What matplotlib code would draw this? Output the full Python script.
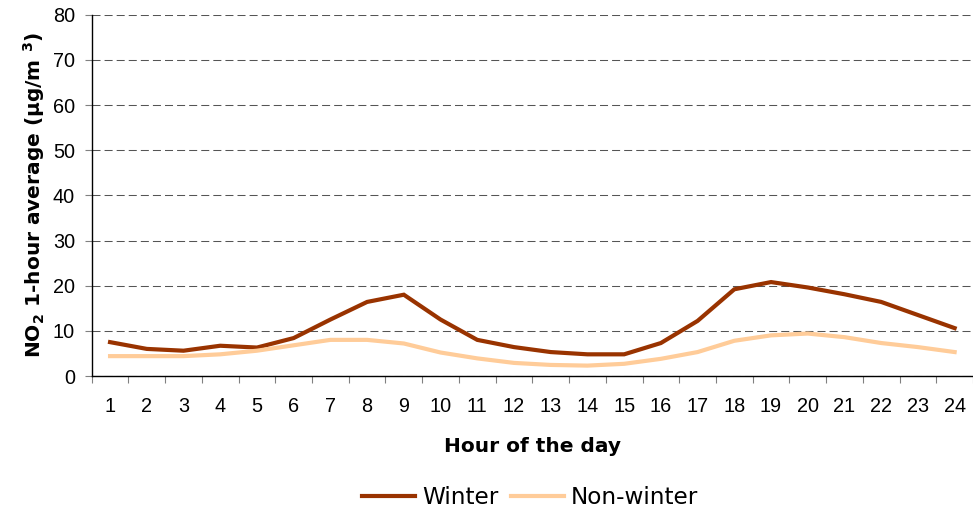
import matplotlib
matplotlib.use("Agg")
import matplotlib.pyplot as plt

plt.rcParams['font.family'] = ['Liberation Sans', 'DejaVu Sans']
plt.rcParams['mathtext.fontset'] = 'custom'
plt.rcParams['mathtext.rm'] = 'DejaVu Sans:bold'
plt.rcParams['mathtext.bf'] = 'DejaVu Sans:bold'
plt.rcParams['mathtext.it'] = 'DejaVu Sans:bold'

hours = list(range(1, 25))
hour_labels = [str(h) for h in hours]
winter = [7.5, 6.0, 5.6, 6.7, 6.3, 8.4, 12.5, 16.4, 18.0, 12.5, 8.0, 6.4,
          5.3, 4.8, 4.8, 7.3, 12.2, 19.2, 20.8, 19.6, 18.1, 16.4, 13.5, 10.6]
non_winter = [4.4, 4.4, 4.4, 4.8, 5.6, 6.8, 8.0, 8.0, 7.2, 5.2, 3.9, 2.9,
              2.45, 2.3, 2.7, 3.8, 5.3, 7.8, 9.0, 9.4, 8.6, 7.3, 6.4, 5.3]
yticks = [0, 10, 20, 30, 40, 50, 60, 70, 80]

fig = plt.figure(figsize=(9.73, 5.20), dpi=100)
ax = fig.add_axes([91.7 / 973, 1 - 376 / 520, 1 - 91.7 / 973, (376 - 14.7) / 520])

ax.plot(hours, winter, color='#993300', lw=3, label='Winter', solid_joinstyle='miter')
ax.plot(hours, non_winter, color='#FFCC99', lw=3, label='Non-winter', solid_joinstyle='miter')

ax.set_xlim(0.5, 24.5)
ax.set_ylim(0, 80)
ax.set_yticks(yticks)
ax.set_yticklabels([str(v) for v in yticks], fontsize=14.3)
ax.tick_params(axis='y', length=5, width=0.8, color='#808080', pad=7)

ax.set_xticks([h - 0.5 for h in hours] + [24.5])
ax.set_xticklabels([])
ax.tick_params(axis='x', which='major', length=5, width=0.8, color='#808080')
ax.set_xticks(hours, minor=True)
ax.set_xticklabels(hour_labels, minor=True, fontsize=14.3)
ax.tick_params(axis='x', which='minor', length=0, pad=15)

ax.yaxis.grid(True, color='#555555', linestyle=(0, (7.7, 3.9)), linewidth=0.75)
ax.set_axisbelow(True)
for s in ['top', 'right']:
    ax.spines[s].set_visible(False)
for s in ['left', 'bottom']:
    ax.spines[s].set_color('black')
    ax.spines[s].set_linewidth(1.0)

ax.set_ylabel('NO$_2$ 1-hour average (µg/m $^3$)', fontsize=14.5, fontweight='bold',
              family='DejaVu Sans')
ax.yaxis.set_label_coords(-0.051, 0.5)
fig.text(532 / 973, 1 - 447 / 520, 'Hour of the day', fontsize=14.5, fontweight='bold',
         family='DejaVu Sans', ha='center', va='center')

fig.legend(loc='center', bbox_to_anchor=(530 / 973, 1 - 498 / 520), ncol=2, frameon=False,
           prop={'family': 'DejaVu Sans', 'size': 16.7},
           handlelength=2.28, handletextpad=0.3, columnspacing=0.55)

fig.savefig('out.png', dpi=100)
